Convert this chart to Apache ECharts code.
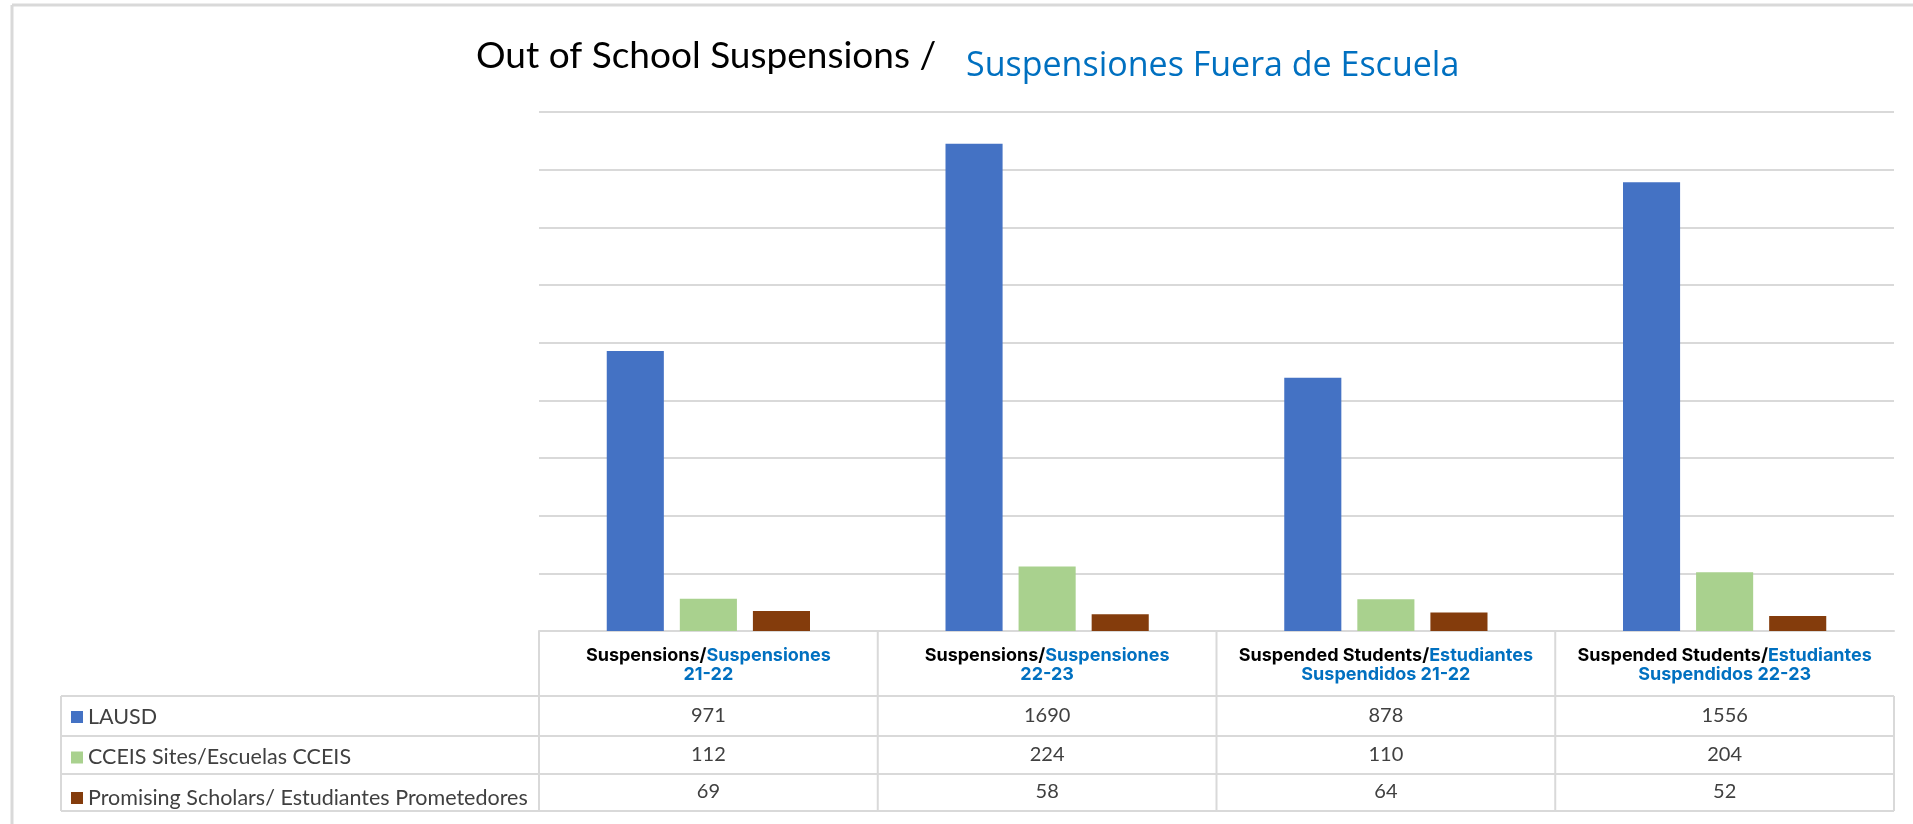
<!DOCTYPE html>
<html>
<head>
<meta charset="utf-8">
<script src="https://cdn.jsdelivr.net/npm/echarts@6/dist/echarts.min.js"></script>
<style>
  html, body { margin: 0; padding: 0; background: #fff; }
  #chart { width: 1913px; height: 824px; }
</style>
</head>
<body>
<div id="chart"></div>
<script>
// header text of each category: black part, blue part, blue second line
const catEn = ["Suspensions/", "Suspensions/", "Suspended Students/", "Suspended Students/"];
const catEs = ["Suspensiones", "Suspensiones", "Estudiantes", "Estudiantes"];
const catYear = ["21-22", "22-23", "Suspendidos 21-22", "Suspendidos 22-23"];
const categories = catEn.map((t, i) => t + catEs[i] + " " + catYear[i]);

const seriesNames = ["LAUSD", "CCEIS Sites/Escuelas CCEIS", "Promising Scholars/ Estudiantes Prometedores"];
const lausd = [971, 1690, 878, 1556];
const cceis = [112, 224, 110, 204];
const scholars = [69, 58, 64, 52];
const seriesData = [lausd, cceis, scholars];
const colors = ["#4472C4", "#A9D18E", "#843C0C"];

// layout (pixels)
const W = 1913, H = 824;
const plotLeft = 539, plotRight = 1894, plotTop = 112, plotBottom = 631;
const headBottom = 696;
const rowLines = [696, 736, 774, 811];
const tableLeft = 61;
const gridColor = "#d9d9d9";

const chart = echarts.init(document.getElementById("chart"));

const colW = (plotRight - plotLeft) / categories.length;
const graphics = [];
const line = (x1, y1, x2, y2, w) => graphics.push({
  type: "line", silent: true,
  shape: { x1, y1, x2, y2 },
  style: { stroke: gridColor, lineWidth: w || 2 }
});
// outer frame
line(12, 5, W, 5, 3);
line(12, 5, 12, H, 3);
// table cells
for (let i = 0; i <= categories.length; i++) {
  const x = plotLeft + i * colW;
  line(x, i === categories.length ? headBottom : plotBottom, x, rowLines[rowLines.length - 1]);
}
rowLines.forEach(y => line(tableLeft, y, plotRight, y));
line(tableLeft, headBottom, tableLeft, rowLines[rowLines.length - 1]);

const rowMargins = [75, 114, 151];
const valueAxes = seriesData.map((vals, k) => ({
  type: "category",
  gridIndex: 0,
  position: "bottom",
  data: categories,
  axisLine: { show: false },
  axisTick: { show: false },
  axisLabel: {
    interval: 0,
    margin: rowMargins[k],
    fontFamily: "Lato",
    fontSize: 20,
    lineHeight: 20,
    color: "#404040",
    formatter: (v, i) => String(vals[i])
  }
}));

const option = {
  animation: false,
  color: colors,
  title: [
    {
      text: "Out of School Suspensions /",
      left: 476, top: 38, padding: 0,
      textStyle: { fontFamily: "Lato", fontWeight: "normal", fontSize: 37, color: "#000" }
    },
    {
      text: "Suspensiones Fuera de Escuela",
      left: 966, top: 49, padding: 0,
      textStyle: { fontFamily: "Open Sans", fontWeight: "normal", fontSize: 34, color: "#0070C0" }
    }
  ],
  legend: {
    orient: "vertical",
    left: 71,
    top: 706,
    padding: 0,
    itemWidth: 12,
    itemHeight: 12,
    itemGap: 18.5,
    icon: "rect",
    selectedMode: false,
    textStyle: { fontFamily: "Lato", fontSize: 21.5, lineHeight: 20, color: "#404040" },
    data: seriesNames
  },
  grid: {
    left: plotLeft,
    right: W - plotRight,
    top: plotTop,
    bottom: H - plotBottom,
    containLabel: false
  },
  xAxis: [
    {
      type: "category",
      position: "bottom",
      data: categories,
      axisLine: { lineStyle: { color: gridColor, width: 2 } },
      axisTick: { show: false },
      axisLabel: {
        interval: 0,
        margin: 15,
        lineHeight: 19,
        formatter: (v, i) => `{k|${catEn[i]}}{b|${catEs[i]}}\n{b|${catYear[i]}}`,
        rich: {
          k: { fontFamily: "Inter", fontWeight: "bold", fontSize: 18, lineHeight: 19, color: "#000" },
          b: { fontFamily: "Inter", fontWeight: "bold", fontSize: 18, lineHeight: 19, color: "#0070C0" }
        }
      }
    },
    ...valueAxes
  ],
  yAxis: {
    type: "value",
    min: 0,
    max: 1800,
    interval: 200,
    axisLabel: { show: false },
    axisLine: { show: false },
    axisTick: { show: false },
    splitLine: { show: true, lineStyle: { color: gridColor, width: 2 } }
  },
  series: seriesData.map((vals, k) => ({
    name: seriesNames[k],
    type: "bar",
    data: vals,
    barGap: "28%",
    barCategoryGap: "40%"
  })),
  graphic: graphics
};

chart.setOption(option);
</script>
</body>
</html>
